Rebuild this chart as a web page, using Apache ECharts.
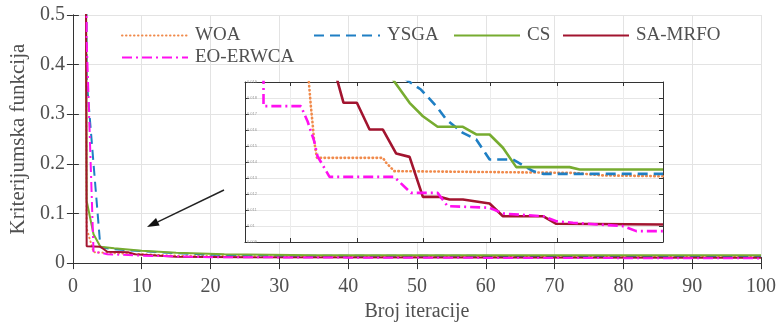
<!DOCTYPE html>
<html>
<head>
<meta charset="utf-8">
<script src="https://cdn.jsdelivr.net/npm/echarts@6/dist/echarts.min.js"></script>
<style>html,body{margin:0;padding:0;background:#fff;}#c{width:779px;height:327px;}</style>
</head>
<body>
<div id="c"></div>
<script>
// ---- data (main plot: [iteration, criterion value]) ----
const seriesNames = ['WOA', 'YSGA', 'CS', 'SA-MRFO', 'EO-ERWCA'];
const xTicks = [0, 10, 20, 30, 40, 50, 60, 70, 80, 90, 100];
const yTicks = [0, 0.1, 0.2, 0.3, 0.4, 0.5];

const woaMain  = [[1,5],[2,0.07],[3,0.022],[6,0.02],[10,0.018],[15,0.015],[25,0.014],[100,0.0135]];
const ysgaMain = [[1,5],[2,0.37],[3,0.2],[4,0.032],[6,0.028],[10,0.024],[15,0.02],[20,0.017],[30,0.015],[100,0.014]];
const csMain   = [[1,5],[2,0.125],[3,0.058],[4,0.033],[6,0.03],[10,0.025],[15,0.021],[22,0.018],[35,0.016],[100,0.016]];
const saMain   = [[1,5],[2,0.034],[4,0.033],[5,0.023],[8,0.022],[9,0.018],[15,0.013],[25,0.012],[100,0.011]];
const eoMain   = [[1,5],[2,0.45],[3,0.022],[4,0.021],[5,0.018],[10,0.015],[20,0.012],[40,0.011],[100,0.0095]];

// ---- data (zoomed inset: [iteration, criterion value]) ----
const woaInset  = [[12.7,0.0195],[13.1,0.01749],[13.4,0.01624],[13.6,0.0153],[14.0,0.01426],[23.9,0.01426],[24.4,0.01395],[25.6,0.01343],[52.4,0.01332],[56.9,0.01316],[65.9,0.01311]];
const ysgaInset = [[27.0,0.01925],[29.6,0.01853],[31.9,0.01749],[33.4,0.01666],[35.9,0.01582],[37.9,0.01541],[39.9,0.01416],[43.4,0.01416],[46.4,0.01343],[47.9,0.01326],[65.9,0.01326]];
const csInset   = [[24.8,0.0195],[27.9,0.0177],[29.9,0.01686],[32.1,0.0162],[35.9,0.0162],[37.9,0.01572],[39.9,0.01572],[41.9,0.01489],[43.9,0.01368],[51.9,0.01368],[53.4,0.01353],[65.9,0.01353]];
const saInset   = [[16.8,0.0195],[18.0,0.0177],[20.0,0.0177],[21.9,0.01603],[23.9,0.01603],[25.9,0.01453],[27.9,0.01432],[29.9,0.01182],[32.4,0.01182],[33.9,0.01166],[35.9,0.01166],[39.9,0.01141],[41.9,0.01061],[47.9,0.01061],[49.9,0.01014],[65.9,0.01009]];
const eoInset   = [[6.0,0.0195],[6.0,0.01749],[11.6,0.01749],[12.6,0.01655],[13.6,0.0153],[14.1,0.01436],[15.9,0.01307],[25.6,0.01307],[28.1,0.01207],[32.1,0.01207],[33.6,0.01124],[39.9,0.01114],[41.9,0.01078],[47.9,0.01061],[49.9,0.0103],[52.4,0.0102],[59.9,0.00999],[61.9,0.00968],[65.9,0.00968]];

const mainData  = [woaMain, ysgaMain, csMain, saMain, eoMain];
const insetData = [woaInset, ysgaInset, csInset, saInset, eoInset];

// ---- styles ----
const FONT = 'Liberation Serif';
const TXT = '#505050';
const colors = ['#F08A4B', '#1F7FC4', '#77AC30', '#A2142F', '#FF10F0'];
const dashes = [[0.5, 3.5], [10, 6], 'solid', 'solid', [10, 4, 2, 4]];
const caps = ['round', 'butt', 'butt', 'butt', 'butt'];

const chart = echarts.init(document.getElementById('c'), null, {renderer: 'canvas'});

function axisBase(extra) {
  return Object.assign({
    type: 'value',
    axisLine: {show: true, lineStyle: {color: '#333', width: 1}},
    axisTick: {show: true, inside: true, length: 6, lineStyle: {color: '#333'}},
    axisLabel: {show: false},
    splitLine: {show: false}
  }, extra);
}

const xAxes = [
  axisBase({gridIndex: 0, position: 'bottom', min: 0, max: 100, interval: 10,
    axisLabel: {show: true, fontFamily: FONT, fontSize: 20, color: TXT, margin: 14},
    splitLine: {show: true, lineStyle: {color: '#e3e3e3', width: 1}},
    name: 'Broj iteracije', nameLocation: 'middle', nameGap: 37,
    nameTextStyle: {fontFamily: FONT, fontSize: 20, color: TXT}}),
  axisBase({gridIndex: 0, position: 'top', min: 0, max: 100, interval: 10}),
  axisBase({gridIndex: 1, position: 'bottom', min: 3.225, max: 65.9, minInterval: 10, maxInterval: 10, z: 4,
    axisTick: {show: true, inside: true, length: 4, lineStyle: {color: '#333'}},
    splitLine: {show: true, lineStyle: {color: '#ececec'}}}),
  axisBase({gridIndex: 1, position: 'top', min: 3.225, max: 65.9, minInterval: 10, maxInterval: 10, z: 4,
    axisTick: {show: true, inside: true, length: 4, lineStyle: {color: '#333'}}})
];
const yAxes = [
  axisBase({gridIndex: 0, position: 'left', min: 0, max: 0.5, interval: 0.1,
    axisLabel: {show: true, fontFamily: FONT, fontSize: 20, color: TXT, margin: 8},
    splitLine: {show: true, lineStyle: {color: '#e3e3e3', width: 1}},
    name: 'Kriterijumska funkcija', nameLocation: 'middle', nameGap: 42, nameRotate: 90,
    nameTextStyle: {fontFamily: FONT, fontSize: 21, color: TXT}}),
  axisBase({gridIndex: 0, position: 'right', min: 0, max: 0.5, interval: 0.1}),
  axisBase({gridIndex: 1, position: 'left', min: 0.009, max: 0.019, interval: 0.001, z: 4,
    axisTick: {show: true, inside: true, length: 4, lineStyle: {color: '#333'}},
    axisLabel: {show: true, inside: true, fontSize: 4, color: '#999', margin: 2},
    splitLine: {show: true, lineStyle: {color: '#e6e6e6'}}}),
  axisBase({gridIndex: 1, position: 'right', min: 0.009, max: 0.019, interval: 0.001, z: 4,
    axisTick: {show: true, inside: true, length: 4, lineStyle: {color: '#333'}}})
];

const series = [];
seriesNames.forEach((n, i) => {
  series.push({
    name: n, type: 'line', xAxisIndex: 0, yAxisIndex: 0, data: mainData[i],
    symbol: 'none', clip: true, z: 2,
    lineStyle: {color: colors[i], width: 2, type: dashes[i], cap: caps[i]},
    itemStyle: {color: colors[i]}
  });
});
seriesNames.forEach((n, i) => {
  series.push({
    name: n + ' ', type: 'line', xAxisIndex: 2, yAxisIndex: 2, data: insetData[i],
    symbol: 'none', clip: true, z: 6,
    lineStyle: {color: colors[i], width: 2.6, type: dashes[i], cap: caps[i]},
    itemStyle: {color: colors[i]}
  });
});

function legendAt(name, left, top) {
  return {
    data: [name], left: left, top: top, itemWidth: 66, itemHeight: 14,
    padding: 0,
    itemStyle: {opacity: 0},
    textStyle: {fontFamily: FONT, fontSize: 19, color: TXT, padding: [0, 0, 0, 2]},
    selectedMode: false
  };
}

const legends = [
  legendAt('WOA', 121, 26),
  legendAt('YSGA', 313, 26),
  legendAt('CS', 453, 26),
  legendAt('SA-MRFO', 562, 26),
  legendAt('EO-ERWCA', 121, 48)
];

// arrow annotation
const tip = [147, 227], tail = [224, 190];
const dx = tip[0] - tail[0], dy = tip[1] - tail[1];
const L = Math.hypot(dx, dy), ux = dx / L, uy = dy / L;
const hl = 12, hw = 4.2;
const bx = tip[0] - hl * ux, by = tip[1] - hl * uy;

chart.setOption({
  animation: false,
  backgroundColor: '#fff',
  color: colors,
  grid: [
    {left: 70, top: 15, width: 692, height: 250, containLabel: false},
    {left: 245, top: 82, width: 418, height: 160, show: true, backgroundColor: '#fff', borderWidth: 0, z: 3}
  ],
  legend: legends,
  xAxis: xAxes,
  yAxis: yAxes,
  series: series,
  graphic: [
    {type: 'line', z: 20, shape: {x1: tail[0], y1: tail[1], x2: bx, y2: by}, style: {stroke: '#222', lineWidth: 1.4}},
    {type: 'polygon', z: 20, shape: {points: [tip, [bx - hw * uy, by + hw * ux], [bx + hw * uy, by - hw * ux]]}, style: {fill: '#111'}}
  ]
});
</script>
</body>
</html>
